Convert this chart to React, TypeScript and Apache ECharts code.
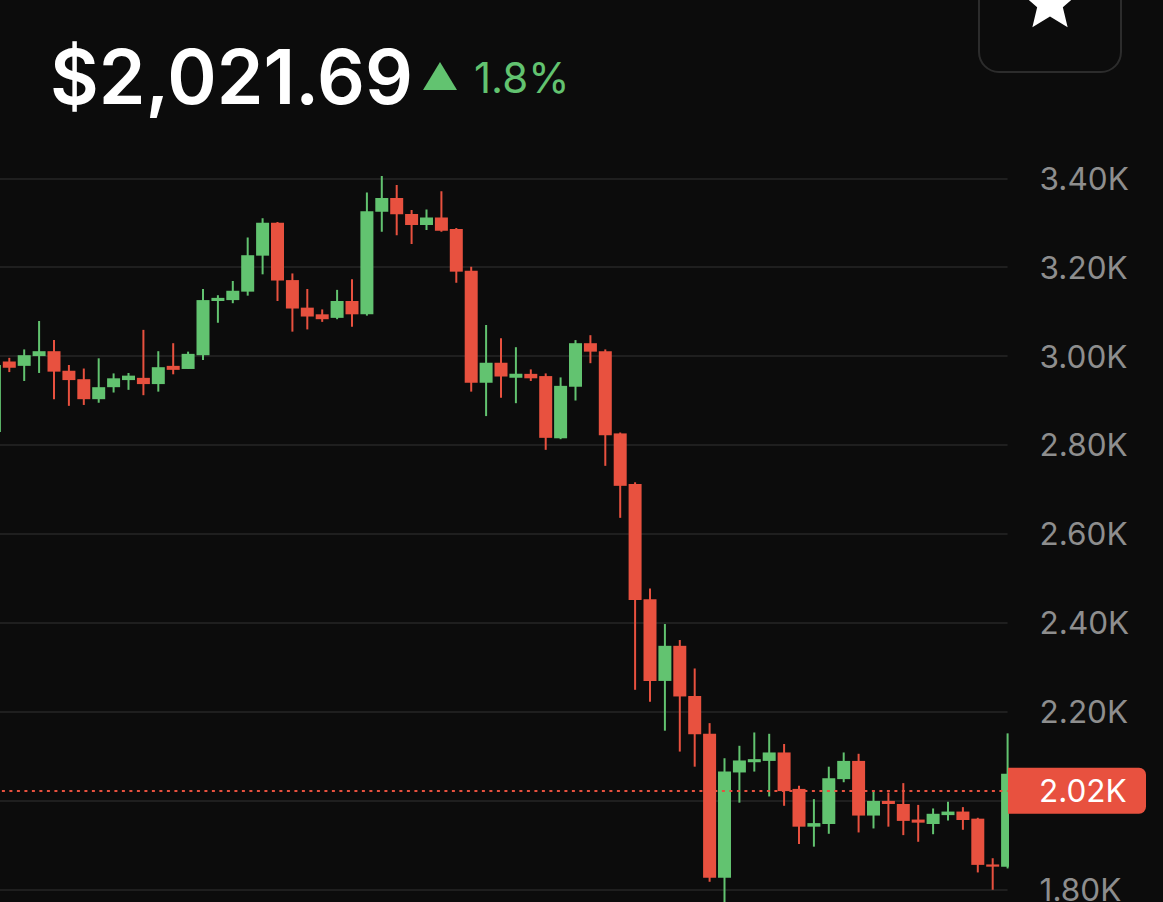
import React, { useEffect, useRef } from 'react';
import * as echarts from 'echarts';

// Candle values (oldest → newest)
const OPEN = [
  2829, 2988, 2978, 3000, 3011, 2967, 2948, 2903, 2930, 2946,
  2951, 2937, 2978, 2971, 3002, 3124, 3126, 3145, 3226, 3300,
  3171, 3109, 3094, 3086, 3124, 3094, 3325, 3356, 3320, 3295,
  3312, 3286, 3192, 2940, 2985, 2951, 2960, 2955, 2815, 2931,
  3029, 3011, 2826, 2712, 2453, 2269, 2348, 2235, 2150, 1826,
  2063, 2086, 2089, 2108, 2026, 1941, 1947, 2048, 2089, 1966,
  1999, 1992, 1957, 1947, 1967, 1975, 1959, 1856, 1851,
];
const CLOSE = [
  2980, 2974, 3002, 3011, 2965, 2946, 2903, 2930, 2950, 2956,
  2937, 2975, 2969, 3005, 3126, 3131, 3147, 3227, 3300, 3170,
  3107, 3089, 3083, 3124, 3094, 3326, 3356, 3319, 3295, 3312,
  3282, 3190, 2940, 2985, 2954, 2960, 2950, 2816, 2933, 3029,
  3010, 2822, 2708, 2451, 2269, 2348, 2234, 2149, 1826, 2065,
  2090, 2093, 2108, 2021, 1941, 1949, 2050, 2089, 1966, 1999,
  1992, 1954, 1950, 1970, 1975, 1956, 1855, 1851, 2060,
];
const LOW = [
  2818, 2964, 2944, 2962, 2903, 2888, 2890, 2895, 2918, 2924,
  2912, 2920, 2959, 2971, 2991, 3075, 3119, 3136, 3184, 3124,
  3055, 3060, 3077, 3083, 3066, 3091, 3280, 3272, 3252, 3284,
  3280, 3165, 2920, 2865, 2906, 2894, 2944, 2789, 2813, 2900,
  2984, 2753, 2636, 2249, 2222, 2157, 2110, 2076, 1817, 1765,
  1995, 2065, 2009, 1988, 1902, 1896, 1925, 2041, 1928, 1937,
  1941, 1922, 1907, 1924, 1955, 1934, 1838, 1799, 1847,
];
const HIGH = [
  2984, 2996, 3015, 3079, 3036, 2980, 2972, 2995, 2961, 2962,
  3059, 3011, 3029, 3010, 3151, 3137, 3169, 3267, 3310, 3302,
  3186, 3151, 3105, 3149, 3173, 3368, 3405, 3385, 3329, 3330,
  3371, 3288, 3201, 3070, 3040, 3020, 2970, 2961, 2952, 3036,
  3047, 3015, 2828, 2716, 2477, 2397, 2361, 2297, 2174, 2095,
  2123, 2153, 2150, 2127, 2033, 2003, 2076, 2108, 2105, 2022,
  2018, 2039, 1990, 1982, 1997, 1985, 1961, 1870, 2151,
];

const Y_MIN = 1600;
const Y_MAX = 3500;
const Y_STEP = 200;
const LABEL_FROM = 1800;
const LABEL_TO = 3400;

const LAST_PRICE = 2021.69;
const PRICE_TEXT = '$2,021.69';
const CHANGE_TEXT = '1.8%';

const GREEN = '#62C370';
const RED = '#E8513F';
const BG = '#0C0C0C';
const GRID = '#1F1F1F';
const AXIS_TEXT = '#8E8E8E';
const BODY_W = 13;

function fmtK(v: number): string {
  return (v / 1000).toFixed(2) + 'K';
}

export default function App() {
  const ref = useRef<HTMLDivElement>(null);

  useEffect(() => {
    if (!ref.current) return;
    const chart = echarts.init(ref.current, null, { renderer: 'svg' });
    const cats = OPEN.map((_, i) => String(i));
    const data = OPEN.map((o, i) => [i, o, CLOSE[i], LOW[i], HIGH[i]]);

    const starPts: number[][] = [];
    for (let k = 0; k < 10; k++) {
      const r = k % 2 === 0 ? 30 : 13.5;
      const a = -Math.PI / 2 + (k * Math.PI) / 5;
      starPts.push([1050 + r * Math.cos(a), 3 + r * Math.sin(a)]);
    }

    const renderItem = (params: any, api: any) => {
      const idx = api.value(0);
      const o = api.value(1);
      const c = api.value(2);
      const l = api.value(3);
      const h = api.value(4);
      const pO = api.coord([idx, o]);
      const pC = api.coord([idx, c]);
      const pL = api.coord([idx, l]);
      const pH = api.coord([idx, h]);
      const color = c >= o ? GREEN : RED;
      const top = Math.min(pO[1], pC[1]);
      const hgt = Math.max(Math.abs(pO[1] - pC[1]), 2);
      return {
        type: 'group',
        children: [
          {
            type: 'line',
            shape: { x1: pH[0], y1: pH[1], x2: pL[0], y2: pL[1] },
            style: { stroke: color, lineWidth: 2 },
          },
          {
            type: 'rect',
            shape: { x: pO[0] - BODY_W / 2, y: top, width: BODY_W, height: hgt },
            style: { fill: color },
          },
        ],
      };
    };

    chart.setOption({
      animation: false,
      backgroundColor: BG,
      grid: {
        left: -5.6,
        top: 133.9,
        width: 1013.2,
        height: 844.3,
        outerBoundsMode: 'none',
      },
      xAxis: {
        type: 'category',
        data: cats,
        boundaryGap: false,
        show: false,
      },
      yAxis: {
        type: 'value',
        position: 'right',
        min: Y_MIN,
        max: Y_MAX,
        interval: Y_STEP,
        axisLine: { show: false },
        axisTick: { show: false },
        splitLine: {
          show: true,
          showMaxLine: false,
          lineStyle: { color: GRID, width: 2 },
        },
        axisLabel: {
          margin: 32,
          showMaxLabel: false,
          color: AXIS_TEXT,
          fontSize: 31.5,
          fontFamily: 'Inter',
          formatter: (v: number) =>
            v < LABEL_FROM || v > LABEL_TO || Math.abs(v - LAST_PRICE) < 100 ? '' : fmtK(v),
        },
      },
      series: [
        {
          type: 'custom',
          clip: true,
          data,
          encode: { x: 0, y: [1, 2, 3, 4] },
          renderItem,
        },
        {
          type: 'line',
          data: [],
          markLine: {
            silent: true,
            symbol: ['none', 'none'],
            lineStyle: { color: RED, type: [3, 4.5], width: 2, opacity: 1 },
            label: {
              show: true,
              position: 'end',
              distance: 0.4,
              formatter: () => fmtK(LAST_PRICE),
              color: '#FFFFFF',
              fontSize: 31.5,
              fontFamily: 'Inter',
              lineHeight: 30,
              backgroundColor: RED,
              padding: [8, 17, 8, 31],
              width: 90,
              borderRadius: [0, 7, 7, 0],
            },
            data: [{ yAxis: LAST_PRICE }],
          },
        },
      ],
      graphic: [
        {
          type: 'rect',
          shape: { x: 979, y: -40, width: 142, height: 112, r: 20 },
          style: { fill: 'transparent', stroke: '#2C2C2C', lineWidth: 2 },
        },
        {
          type: 'polygon',
          shape: { points: starPts },
          style: { fill: '#FFFFFF' },
        },
        {
          type: 'text',
          x: 50,
          y: 76,
          style: {
            text: PRICE_TEXT,
            fill: '#FFFFFF',
            fontSize: 75,
            fontWeight: 600,
            fontFamily: 'Inter',
            verticalAlign: 'middle',
            align: 'left',
          },
        },
        {
          type: 'polygon',
          shape: { points: [[423, 90], [457, 90], [440, 62]] },
          style: { fill: GREEN },
        },
        {
          type: 'text',
          x: 474,
          y: 77,
          style: {
            text: CHANGE_TEXT,
            fill: GREEN,
            fontSize: 42,
            fontFamily: 'Inter',
            verticalAlign: 'middle',
            align: 'left',
          },
        },
      ],
    });

    return () => chart.dispose();
  }, []);

  return (
    <div
      ref={ref}
      style={{ position: 'absolute', left: 0, top: 0, width: 1163, height: 902, background: BG }}
    />
  );
}
